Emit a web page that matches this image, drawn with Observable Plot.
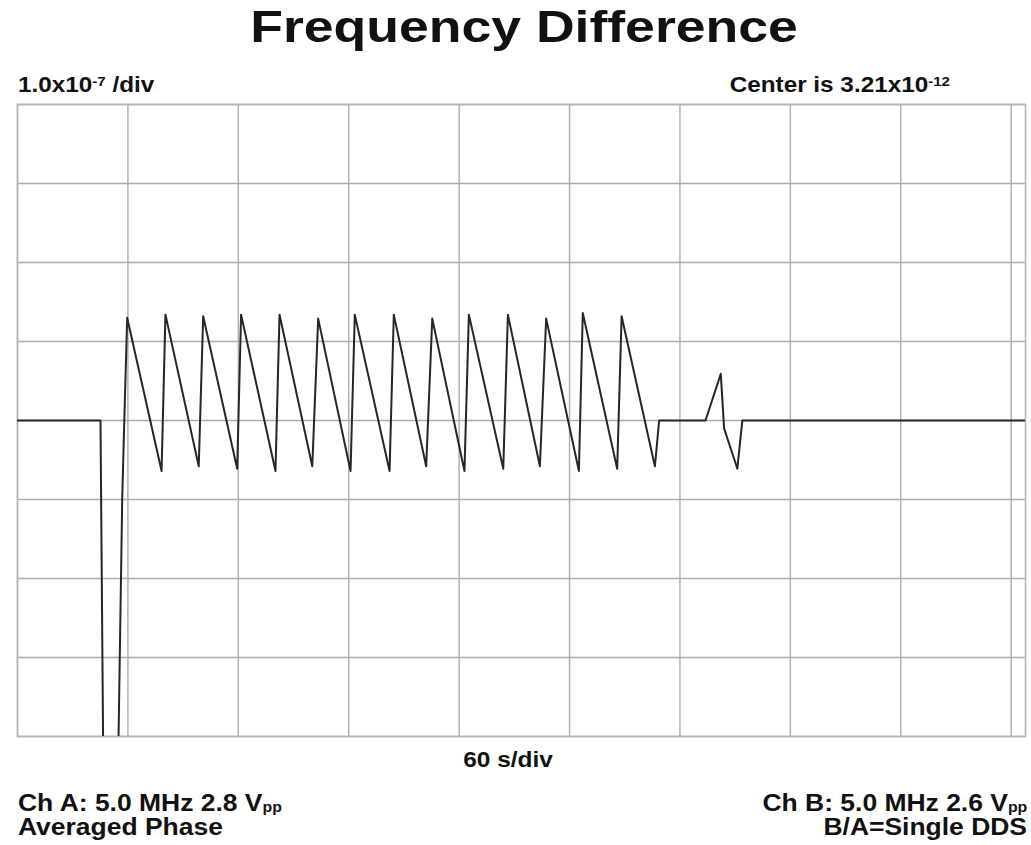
<!DOCTYPE html>
<html>
<head>
<meta charset="utf-8">
<script src="https://cdn.jsdelivr.net/npm/d3@7"></script>
<script src="https://cdn.jsdelivr.net/npm/@observablehq/plot@0.6"></script>
<style>
  html, body { margin: 0; padding: 0; background: #fff; }
  #page { position: relative; width: 1031px; height: 845px; overflow: hidden;
          font-family: "Liberation Sans", Arial, Helvetica, sans-serif; font-weight: bold; color: #111; }
  .lbl { position: absolute; white-space: nowrap; line-height: 1; }
  .sm { line-height: 0.9; }
  .sup { font-size: 0.62em; position: relative; top: -0.45em; }
  .sub { font-size: 0.6em; position: relative; top: 0.08em; line-height: 0.8; }
  #chart { position: absolute; left: 0; top: 100px; }
</style>
</head>
<body>
<div id="page">
  <div class="lbl" style="left:523.5px; top:3.6px; font-size:45px; transform:translateX(-50%) scaleX(1.19);">Frequency Difference</div>
  <div class="lbl" style="left:18px; top:74.5px; font-size:21.5px; transform-origin:left; transform:scaleX(1.13);">1.0x10<span class="sup">-7</span> /div</div>
  <div class="lbl" style="right:81px; top:75px; font-size:21.5px; transform-origin:right; transform:scaleX(1.13);">Center is 3.21x10<span class="sup">-12</span></div>
  <div id="chart"></div>
  <div class="lbl" style="left:508px; top:748.5px; font-size:21.8px; transform:translateX(-50%) scaleX(1.12);">60 s/div</div>
  <div class="lbl sm" style="left:18px; top:792.5px; font-size:23px; transform-origin:left; transform:scaleX(1.15);">Ch A: 5.0 MHz 2.8 V<span class="sub">pp</span></div>
  <div class="lbl sm" style="left:18px; top:816.8px; font-size:23px; transform-origin:left; transform:scaleX(1.15);">Averaged Phase</div>
  <div class="lbl sm" style="right:4px; top:792.5px; font-size:23px; transform-origin:right; transform:scaleX(1.15);">Ch B: 5.0 MHz 2.6 V<span class="sub">pp</span></div>
  <div class="lbl sm" style="right:4px; top:816.8px; font-size:23px; transform-origin:right; transform:scaleX(1.15);">B/A=Single DDS</div>
</div>
<script>
// Time in seconds (60 s/div)
const timeSec = [0, 45.1, 47.2, 53.6, 56.9, 57.8, 59.6, 78.3, 80.4, 98.5, 100.9, 119.4, 121.5, 140.2, 142.4,
  160.2, 163.4, 181.0, 183.3, 202.2, 204.5, 222.1, 225.4, 242.9, 245.3, 264.0, 266.5, 283.9, 287.3,
  305.1, 307.2, 325.9, 328.3, 346.4, 348.7, 373.9, 382.2, 384.0, 391.2, 393.9, 547.8];
// Frequency difference relative to center, in units of 1.0x10^-7 (one division)
const freqDiff = [0, 0, -6, -6, -1.0, -0.2, 1.30, -0.64, 1.34, -0.58, 1.32, -0.61, 1.34, -0.64, 1.34,
  -0.58, 1.29, -0.64, 1.34, -0.64, 1.34, -0.58, 1.29, -0.64, 1.34, -0.61, 1.34, -0.58, 1.29,
  -0.64, 1.36, -0.61, 1.32, -0.58, 0, 0, 0.59, -0.10, -0.61, 0, 0];
const xTicks = [0, 60, 120, 180, 240, 300, 360, 420, 480, 540];
const yTicks = [-4, -3, -2, -1, 0, 1, 2, 3, 4];

const data = timeSec.map((t, i) => ({t, v: freqDiff[i]}));

const chart = Plot.plot({
  width: 1031,
  height: 641,
  marginLeft: 17,
  marginRight: 6,
  marginTop: 4,
  marginBottom: 5,
  x: {domain: [0, 547.8], axis: null},
  y: {domain: [-4, 4], axis: null},
  marks: [
    Plot.ruleX(xTicks, {stroke: "#adadad", strokeWidth: 1.4}),
    Plot.ruleY(yTicks, {stroke: "#adadad", strokeWidth: 1.4}),
    Plot.frame({stroke: "#b5b5b5", strokeWidth: 1.6}),
    Plot.line(data, {x: "t", y: "v", stroke: "#262626", strokeWidth: 2, clip: true})
  ]
});
document.getElementById("chart").appendChild(chart);
</script>
</body>
</html>
